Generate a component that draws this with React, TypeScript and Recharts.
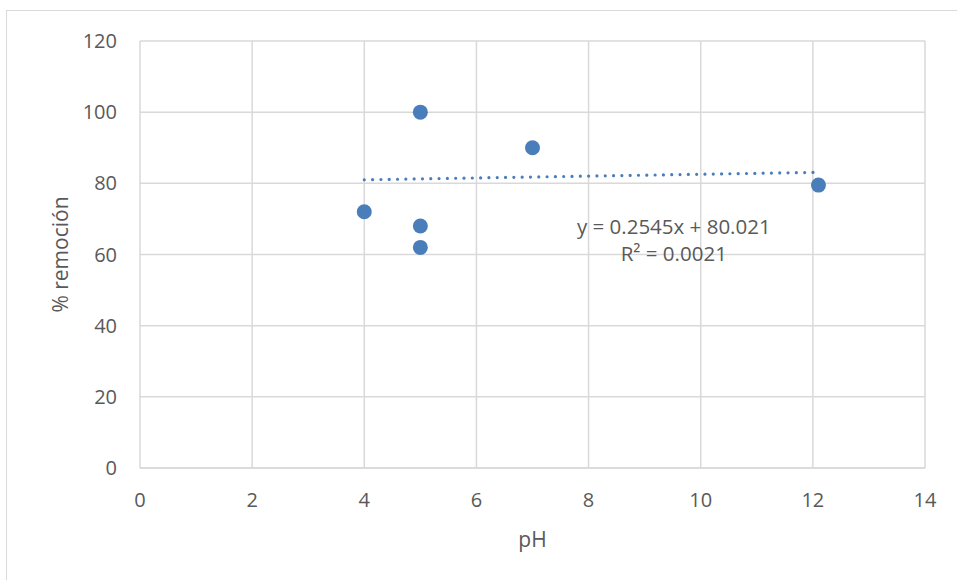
import React from 'react';
import {
  ScatterChart,
  Scatter,
  XAxis,
  YAxis,
  CartesianGrid,
  ReferenceDot,
} from 'recharts';

// Measured points (pH vs % removal)
const phValues = [4, 5, 5, 5, 7, 12.1];
const removalValues = [72, 100, 68, 62, 90, 79.5];

// Linear trendline end points
const trendPh = [4, 12.1];
const trendRemoval = [81.0, 83.1];

const xTicks = [0, 2, 4, 6, 8, 10, 12, 14];
const yTicks = [0, 20, 40, 60, 80, 100, 120];

const equationLines = ['y = 0.2545x + 80.021', 'R² = 0.0021'];
const equationAnchor = { x: 9.52, y: 64 };

const points = phValues.map((ph, i) => ({ ph, removal: removalValues[i] }));
const trend = trendPh.map((ph, i) => ({ ph, removal: trendRemoval[i] }));

const FONT = '"Open Sans", "Liberation Sans", sans-serif';
const TEXT = '#595959';
const GRID = '#d9d9d9';
const BLUE = '#4A7EBB';

const EquationLabel = (props: any) => {
  const vb = props.viewBox || {};
  const cx = (vb.x || 0) + (vb.width || 0) / 2;
  const cy = (vb.y || 0) + (vb.height || 0) / 2;
  return (
    <g>
      <text
        x={cx}
        y={cy - 13.5}
        textAnchor="middle"
        dy="0.355em"
        fill={TEXT}
        fontFamily={FONT}
        fontSize={20.5}
      >
        {equationLines[0]}
      </text>
      <text
        x={cx}
        y={cy + 13.5}
        textAnchor="middle"
        dy="0.355em"
        fill={TEXT}
        fontFamily={FONT}
        fontSize={20.5}
      >
        {equationLines[1]}
      </text>
    </g>
  );
};

export default function App() {
  return (
    <div
      style={{
        position: 'absolute',
        left: 0,
        top: 0,
        width: 957,
        height: 580,
        overflow: 'hidden',
        background: '#fff',
      }}
    >
      <div
        style={{
          position: 'absolute',
          left: 6,
          top: 10,
          width: 1000,
          height: 700,
          border: `1.5px solid ${GRID}`,
          boxSizing: 'border-box',
        }}
      />
      <div style={{ position: 'absolute', left: 0, top: 0 }}>
        <ScatterChart
          width={957}
          height={580}
          margin={{ top: 41, right: 32, left: 0, bottom: 0 }}
        >
          <CartesianGrid stroke={GRID} strokeWidth={1.5} />
          <XAxis
            type="number"
            dataKey="ph"
            domain={[0, 14]}
            ticks={xTicks}
            interval={0}
            height={112}
            tickLine={false}
            tickSize={0}
            tickMargin={25}
            axisLine={{ stroke: GRID, strokeWidth: 1.5 }}
            tick={{ fill: TEXT, fontFamily: FONT, fontSize: 20 }}
            label={{
              value: 'pH',
              position: 'insideBottom',
              offset: 33,
              fill: TEXT,
              fontFamily: FONT,
              fontSize: 21,
            }}
          />
          <YAxis
            type="number"
            dataKey="removal"
            domain={[0, 120]}
            ticks={yTicks}
            interval={0}
            width={140}
            tickLine={false}
            axisLine={false}
            tickSize={0}
            tickMargin={23}
            tick={{ fill: TEXT, fontFamily: FONT, fontSize: 20 }}
            label={{
              value: '% remoción',
              angle: -90,
              position: 'insideLeft',
              offset: 61,
              fill: TEXT,
              fontFamily: FONT,
              fontSize: 21,
              style: { textAnchor: 'middle' },
            }}
          />
          <Scatter
            data={trend}
            isAnimationActive={false}
            line={{
              stroke: BLUE,
              strokeWidth: 3.2,
              strokeDasharray: '0.01 8.3',
              strokeLinecap: 'round',
            }}
            shape={() => <g />}
            legendType="none"
          />
          <Scatter
            data={points}
            isAnimationActive={false}
            fill={BLUE}
            shape={(p: any) => (
              <circle cx={p.cx} cy={p.cy} r={7.5} fill={BLUE} />
            )}
          />
          <ReferenceDot
            x={equationAnchor.x}
            y={equationAnchor.y}
            r={0}
            fill="none"
            stroke="none"
            label={<EquationLabel />}
          />
        </ScatterChart>
      </div>
    </div>
  );
}
